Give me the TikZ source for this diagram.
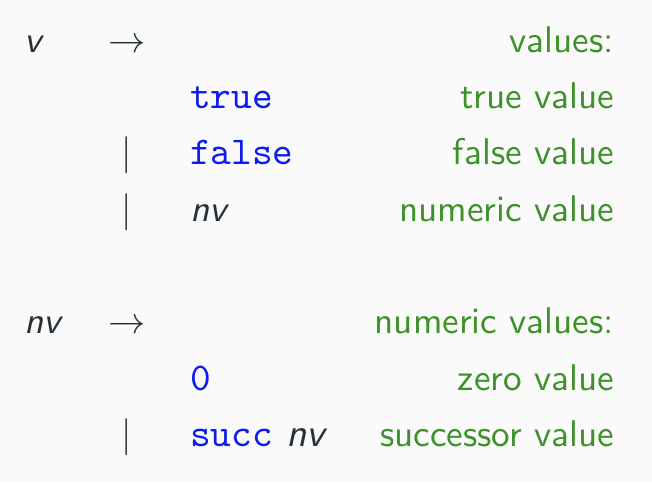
\documentclass[tikz,border=0pt]{standalone}
\usepackage{fontspec}
\definecolor{bggray}{RGB}{250,250,250}
\definecolor{kwblue}{RGB}{12,28,240}
\definecolor{notegreen}{RGB}{60,146,40}
\definecolor{metagray}{RGB}{38,50,56}
\tikzset{
  meta/.style={anchor=base west,inner sep=0pt,text=metagray,font=\sffamily\itshape},
  kw/.style={anchor=base west,inner sep=0pt,text=kwblue,font=\ttfamily\fontsize{10.6}{12.7}\selectfont},
  note/.style={anchor=base east,inner sep=0pt,text=notegreen,font=\sffamily},
  sym/.style={anchor=base west,inner sep=0pt,text=metagray},
  alt/.style={anchor=base,inner sep=0pt,text=metagray}
}
\begin{document}
\begin{tikzpicture}
\fill[bggray] (0,0) rectangle (6.163,4.556);
\useasboundingbox (0,0) rectangle (6.163,4.556);
% values
\node [meta,name=vlhs] at (0.22,4.064){v};
\node [sym,name=vto] at (1.02,4.064){$\to$};
\node [note,name=vnote] at (5.81,4.064){values:};
\node [kw,name=vtrue] at (1.79,3.533){true};
\node [note,name=truenote] at (5.81,3.533){true value};
\node [alt,name=bara] at (1.20,3.000){$\mid$};
\node [kw,name=vfalse] at (1.79,3.000){false};
\node [note,name=falsenote] at (5.81,3.000){false value};
\node [alt,name=barb] at (1.20,2.467){$\mid$};
\node [meta,name=vnv] at (1.796,2.467){nv};
\node [note,name=nvnote] at (5.81,2.467){numeric value};
% numeric values
\node [meta,name=nvlhs] at (0.22,1.399){nv};
\node [sym,name=nvto] at (1.02,1.399){$\to$};
\node [note,name=nvsnote] at (5.81,1.399){numeric values:};
\node [kw,name=nvzero] at (1.79,0.865){0};
\node [note,name=zeronote] at (5.81,0.865){zero value};
\node [alt,name=barc] at (1.20,0.331){$\mid$};
\node [kw,name=nvsucc] at (1.79,0.331){succ{\sffamily\itshape\color{metagray}\ nv}};
\node [note,name=succnote] at (5.81,0.331){successor value};
\end{tikzpicture}
\end{document}
